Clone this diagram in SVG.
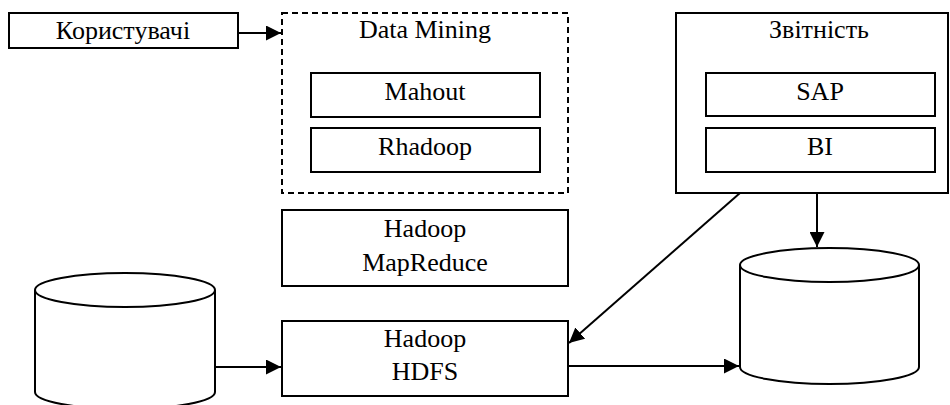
<svg xmlns="http://www.w3.org/2000/svg" width="950" height="405" viewBox="0 0 950 405">
<defs>
<style>
.b{fill:#fff;stroke:#000;stroke-width:2}
.d{fill:none;stroke:#000;stroke-width:2;stroke-dasharray:6,4}
.t{font-family:"Liberation Serif","Times New Roman",serif;font-size:26px;text-anchor:middle;fill:#000}
.c{fill:none;stroke:#000;stroke-width:2}
</style>
<marker id="a" viewBox="0 0 10 10" refX="10" refY="5" markerWidth="15" markerHeight="15" markerUnits="userSpaceOnUse" orient="auto">
<path d="M0,0L10,5L0,10z" fill="#000"/>
</marker>
</defs>
<g id="users"><rect class="b" x="9" y="13" width="229" height="35"/><text class="t" x="123" y="39">Користувачі</text></g>
<g id="datamining"><rect class="d" x="282" y="13" width="286" height="180"/><text class="t" x="425" y="38">Data Mining</text>
<g id="mahout"><rect class="b" x="311" y="73" width="229" height="44"/><text class="t" x="425" y="100">Mahout</text></g>
<g id="rhadoop"><rect class="b" x="311" y="128" width="229" height="44"/><text class="t" x="425" y="155">Rhadoop</text></g></g>
<g id="reporting"><rect class="b" x="676" y="13" width="272" height="180"/><text class="t" x="819" y="38">Звітність</text>
<g id="sap"><rect class="b" x="706" y="73" width="229" height="43"/><text class="t" x="820" y="100">SAP</text></g>
<g id="bi"><rect class="b" x="706" y="128" width="229" height="44"/><text class="t" x="820" y="155">BI</text></g></g>
<g id="mapreduce"><rect class="b" x="282" y="210" width="286" height="76"/><text class="t" x="425" y="237">Hadoop</text><text class="t" x="425" y="271">MapReduce</text></g>
<g id="hdfs"><rect class="b" x="282" y="321" width="286" height="75"/><text class="t" x="425" y="347">Hadoop</text><text class="t" x="425" y="380">HDFS</text></g>
<g id="db1"><path class="b" d="M35,290 L35,392 A90,17 0 0 0 215,392 L215,290 A90,17 0 0 0 35,290 A90,17 0 0 0 215,290"/></g>
<g id="db2"><path class="b" d="M740,265 L740,367 A89.5,17 0 0 0 919,367 L919,265 A89.5,17 0 0 0 740,265 A89.5,17 0 0 0 919,265"/></g>
<g id="connectors">
<line class="c" x1="238" y1="33" x2="281" y2="33" marker-end="url(#a)"/>
<line class="c" x1="215" y1="367" x2="281" y2="367" marker-end="url(#a)"/>
<line class="c" x1="568" y1="366" x2="739" y2="366" marker-end="url(#a)"/>
<line class="c" x1="817" y1="193" x2="817" y2="247" marker-end="url(#a)"/>
<line class="c" x1="740" y1="193" x2="569" y2="343" marker-end="url(#a)"/>
</g>
</svg>
